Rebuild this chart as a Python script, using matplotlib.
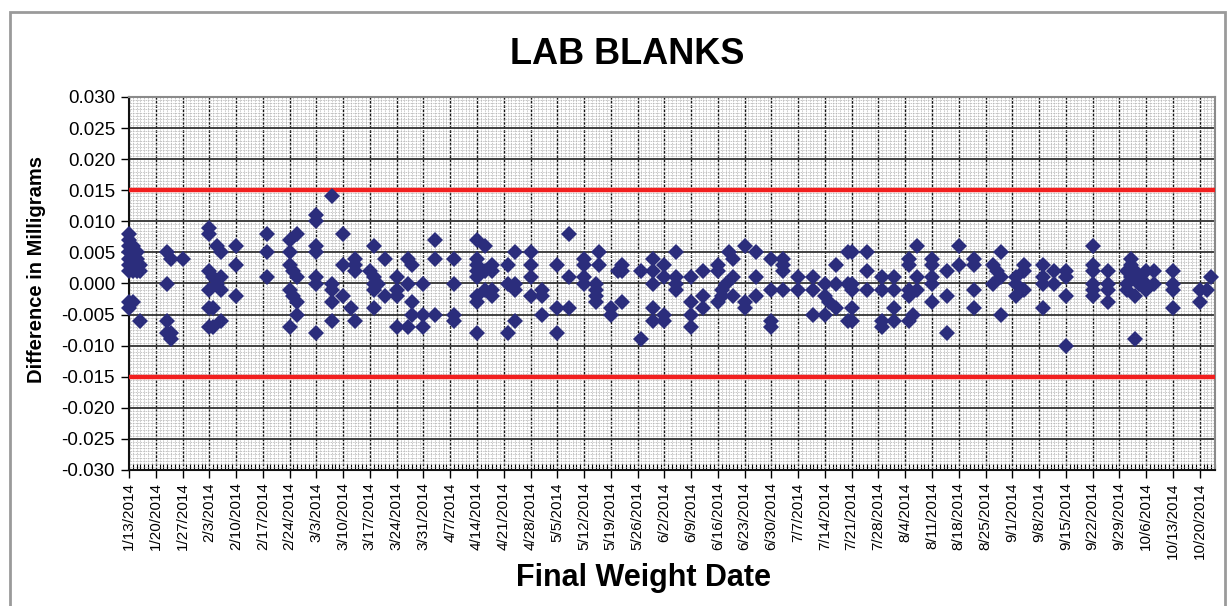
import matplotlib
matplotlib.use('Agg')
import matplotlib.pyplot as plt
import matplotlib.dates as mdates
from matplotlib.ticker import MultipleLocator, FormatStrFormatter
from matplotlib.patches import Rectangle
import numpy as np
import pandas as pd

plt.rcParams['font.family'] = ['Liberation Sans', 'DejaVu Sans']

# ---------------- data ----------------
start_date = '2014-01-13'
end_date = '2014-10-24'
tick_first = '2014-01-13'
tick_last = '2014-10-20'
upper_limit = 0.015
lower_limit = -0.015

# days after 1/13/2014 on which each blank was weighed
day_offset = [
    0, 0, 0, 0, 0, 0, 0, 0, 0, 1, 1, 1, 1, 1, 2, 2, 2, 2, 3, 3, 3,
    10, 10, 10, 10, 11, 11, 11, 14,
    21, 21, 21, 21, 21, 21, 22, 22, 22, 23, 23, 24, 24, 24, 24, 28, 28, 28,
    36, 36, 36, 42, 42, 42, 42, 42, 43, 43, 44, 44, 44, 44,
    49, 49, 49, 49, 49, 49, 49, 53, 53, 53, 53, 53, 56, 56, 56, 58, 59, 59, 59, 59,
    63, 64, 64, 64, 64, 64, 65, 67, 67, 70, 70, 70, 70,
    73, 73, 73, 74, 74, 74, 77, 77, 77, 80, 80, 80, 85, 85, 85, 85,
    91, 91, 91, 91, 91, 91, 91, 91, 93, 93, 93, 95, 95, 95, 95, 99, 99, 99,
    101, 101, 101, 101, 105, 105, 105, 105, 108, 108, 108, 112, 112, 112, 115, 115, 115,
    119, 119, 119, 119, 122, 122, 122, 122, 123, 123, 126, 126, 128, 129, 129, 129,
    134, 134, 137, 137, 137, 137, 137, 140, 140, 140, 140, 143, 143, 143, 143,
    147, 147, 147, 147, 150, 150, 150, 154, 154, 154, 155, 155, 156, 157, 158, 158, 158,
    161, 161, 161, 164, 164, 164, 168, 168, 168, 168, 171, 171, 171, 171,
    175, 175, 179, 179, 179, 182, 182, 182, 183, 185, 185, 185, 188, 188, 188,
    189, 189, 189, 189, 189, 193, 193, 193, 197, 197, 197, 197, 200, 200, 200, 200,
    204, 204, 204, 204, 204, 205, 206, 206, 206, 210, 210, 210, 210, 210, 214, 214, 214,
    217, 217, 221, 221, 221, 221, 226, 226, 227, 228, 228, 228, 232, 232, 232, 234, 234, 234,
    239, 239, 239, 239, 242, 242, 245, 245, 245, 245, 252, 252, 252, 252, 252, 252,
    256, 256, 256, 256, 261, 261, 261, 262, 262, 262, 263, 263, 263, 264, 264, 266, 266, 266, 268, 268,
    273, 273, 273, 273, 280, 280, 282, 283,
]

# difference in micrograms (converted to milligrams below)
diff_ug = [
    8, 7, 6, 5, 4, 3, 2, -3, -4, 6, 4, 3, 2, -3, 5, 4, 3, 2, 3, 2, -6,
    5, 0, -6, -8, 4, -8, -9, 4,
    9, 8, 2, -1, -4, -7, 1, -4, -7, 6, 0, 5, 1, -1, -6, 6, 3, -2,
    8, 5, 1, 7, 5, 3, -1, -7, 2, -2, 8, 1, -3, -5,
    11, 10, 6, 5, 1, 0, -8, 14, 0, -1, -3, -6, 8, 3, -2, -4, 4, 3, 2, -6,
    2, 6, 1, 0, -1, -4, 0, 4, -2, 1, -1, -2, -7,
    4, 0, -7, 3, -3, -5, 0, -5, -7, 7, 4, -5, 4, 0, -5, -6,
    7, 4, 3, 2, 1, -2, -3, -8, 6, 2, -1, 3, 2, -1, -2, 3, 0, -8,
    5, 0, -1, -6, 5, 3, 1, -2, -1, -2, -5, 3, -4, -8, 8, 1, -4,
    4, 3, 1, 0, 0, -1, -2, -3, 5, 3, -4, -5, 2, 3, 2, -3,
    2, -9, 4, 2, 0, -4, -6, 3, 1, -5, -6, 5, 1, 0, -1,
    1, -3, -5, -7, 2, -2, -4, 3, 2, -3, -1, -2, 0, 5, 4, 1, -2,
    6, -3, -4, 5, 1, -2, 4, -1, -6, -7, 4, 3, 2, -1,
    1, -1, 1, -1, -5, 0, -2, -5, -3, 3, 0, -4, 5, 0, -6,
    5, 0, -1, -4, -6, 5, 2, -1, 1, -1, -6, -7, 1, -1, -4, -6,
    4, 3, -1, -2, -6, -5, 6, 1, -1, 4, 3, 1, 0, -3, 2, -2, -8,
    6, 3, 4, 3, -1, -4, 3, 0, 2, 5, 1, -5, 1, 0, -2, 3, 2, -1,
    3, 1, 0, -4, 2, 0, 2, 1, -2, -10, 6, 3, 2, 0, -1, -2,
    2, 0, -1, -3, 2, 0, -1, 4, 3, 1, 2, -2, -9, 1, 0, 2, 0, -1, 2, 0,
    2, 0, -1, -4, -1, -3, -1, 1,
]

assert len(day_offset) == len(diff_ug)

dates = pd.Timestamp(start_date) + pd.to_timedelta(day_offset, unit='D')
diff_mg = np.array(diff_ug) / 1000.0

week_ticks = pd.date_range(tick_first, tick_last, freq='7D')
week_labels = [f"{t.month}/{t.day}/{t.year}" for t in week_ticks]

# ---------------- figure ----------------
W, H = 1229, 606
fig = plt.figure(figsize=(W / 100, H / 100), dpi=100)
fig.patch.set_facecolor('white')

# outer chart-area border
fig.add_artist(Rectangle((10 / W, -0.1), (1225 - 10) / W, 1.1 - 12 / H,
                         transform=fig.transFigure, fill=False,
                         edgecolor='#9a9a9a', lw=2, clip_on=False))

ax = fig.add_axes([129 / W, 1 - 470 / H, (1215 - 129) / W, (470 - 97) / H])
ax.set_facecolor('white')

ax.set_xlim(pd.Timestamp(start_date), pd.Timestamp(end_date))
ax.set_ylim(-0.030, 0.030)

ax.set_xticks(week_ticks)
ax.set_xticklabels(week_labels, rotation=90)
ax.xaxis.set_minor_locator(mdates.DayLocator())
ax.yaxis.set_major_locator(MultipleLocator(0.005))
ax.yaxis.set_minor_locator(MultipleLocator(0.0005))
ax.yaxis.set_major_formatter(FormatStrFormatter('%.3f'))

# grids
ax.grid(which='minor', axis='both', color='#b0b0b0', lw=0.6, ls=(0, (1, 1)), zorder=0)
ax.grid(which='major', axis='x', color='#111111', lw=1.0, ls=(0, (2, 1)), zorder=1)
ax.grid(which='major', axis='y', color='#333333', lw=1.3, ls='-', zorder=1)
ax.set_axisbelow(True)

ax.axhline(upper_limit, color='#f21f1f', lw=3.2, zorder=3)
ax.axhline(lower_limit, color='#f21f1f', lw=3.2, zorder=3)

ax.plot(dates, diff_mg, ls='none', marker='D', ms=8.5, color='#2b2d7c',
        mew=0, zorder=5, clip_on=False)

ax.tick_params(axis='x', which='major', direction='out', length=6, width=1,
               labelsize=11, pad=3)
ax.tick_params(axis='x', which='minor', direction='in', length=4, width=0.8)
ax.tick_params(axis='y', which='major', direction='out', length=6, width=1,
               labelsize=13.5, pad=4)
ax.tick_params(axis='y', which='minor', length=0)

for side in ['left', 'bottom']:
    ax.spines[side].set_color('#111111')
    ax.spines[side].set_linewidth(1.5)
for side in ['top', 'right']:
    ax.spines[side].set_color('#8a8a8a')
    ax.spines[side].set_linewidth(1.5)

fig.text(627 / W, 1 - 55 / H, 'LAB BLANKS', fontsize=26, fontweight='bold',
         ha='center', va='center')
fig.text(37 / W, 1 - 270 / H, 'Difference in Milligrams', fontsize=14.5,
         fontweight='bold', rotation=90, ha='center', va='center')
fig.text(643 / W, 1 - 578 / H, 'Final Weight Date', fontsize=22,
         fontweight='bold', ha='center', va='center')

fig.savefig('out.png', dpi=100)
